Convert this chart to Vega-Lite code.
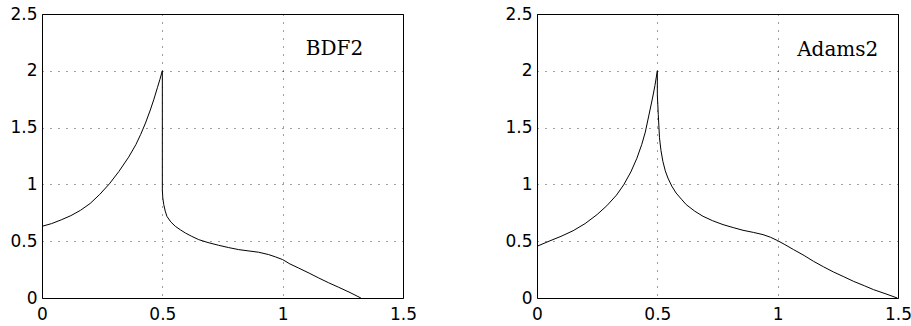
{
  "$schema": "https://vega.github.io/schema/vega-lite/v6.json",
  "autosize": {"type": "pad"},
  "padding": {"left": 9, "top": 4, "right": 5, "bottom": 5},
  "background": "white",
  "spacing": 134,
  "bounds": "flush",
  "datasets": {
    "bdf2": [
      {"x":0,"y":0.631},{"x":0.04,"y":0.655},{"x":0.08,"y":0.688},{"x":0.12,"y":0.725},{"x":0.16,"y":0.772},{"x":0.2,"y":0.832},{"x":0.24,"y":0.912},{"x":0.28,"y":1.005},{"x":0.32,"y":1.115},{"x":0.36,"y":1.24},{"x":0.39,"y":1.35},{"x":0.41,"y":1.44},{"x":0.43,"y":1.54},{"x":0.45,"y":1.655},{"x":0.465,"y":1.75},{"x":0.48,"y":1.855},{"x":0.49,"y":1.925},{"x":0.5,"y":2.0},
      {"x":0.5,"y":0.95},{"x":0.502,"y":0.88},{"x":0.506,"y":0.822},{"x":0.512,"y":0.765},{"x":0.519,"y":0.719},{"x":0.535,"y":0.67},{"x":0.554,"y":0.631},{"x":0.575,"y":0.6},{"x":0.596,"y":0.572},{"x":0.62,"y":0.545},{"x":0.651,"y":0.514},{"x":0.69,"y":0.488},{"x":0.734,"y":0.464},{"x":0.775,"y":0.444},{"x":0.817,"y":0.426},{"x":0.86,"y":0.414},{"x":0.9,"y":0.403},{"x":0.942,"y":0.382},{"x":0.97,"y":0.362},{"x":1.0,"y":0.338},{"x":1.03,"y":0.3},{"x":1.066,"y":0.264},{"x":1.11,"y":0.219},{"x":1.15,"y":0.176},{"x":1.19,"y":0.135},{"x":1.233,"y":0.094},{"x":1.28,"y":0.048},{"x":1.325,"y":0.0}
    ],
    "adams2": [
      {"x":0,"y":0.455},{"x":0.05,"y":0.5},{"x":0.1,"y":0.543},{"x":0.15,"y":0.592},{"x":0.2,"y":0.655},{"x":0.25,"y":0.735},{"x":0.29,"y":0.812},{"x":0.33,"y":0.905},{"x":0.36,"y":0.995},{"x":0.39,"y":1.11},{"x":0.415,"y":1.23},{"x":0.435,"y":1.35},{"x":0.45,"y":1.46},{"x":0.465,"y":1.61},{"x":0.48,"y":1.76},{"x":0.49,"y":1.87},{"x":0.5,"y":2.0},
      {"x":0.5,"y":1.79},{"x":0.502,"y":1.7},{"x":0.504,"y":1.614},{"x":0.509,"y":1.41},{"x":0.515,"y":1.3},{"x":0.523,"y":1.203},{"x":0.533,"y":1.12},{"x":0.544,"y":1.056},{"x":0.56,"y":0.985},{"x":0.578,"y":0.924},{"x":0.6,"y":0.87},{"x":0.62,"y":0.822},{"x":0.655,"y":0.765},{"x":0.69,"y":0.719},{"x":0.73,"y":0.68},{"x":0.773,"y":0.646},{"x":0.815,"y":0.62},{"x":0.856,"y":0.596},{"x":0.9,"y":0.577},{"x":0.939,"y":0.558},{"x":0.97,"y":0.535},{"x":1.0,"y":0.505},{"x":1.03,"y":0.47},{"x":1.066,"y":0.426},{"x":1.11,"y":0.374},{"x":1.149,"y":0.323},{"x":1.19,"y":0.275},{"x":1.232,"y":0.229},{"x":1.275,"y":0.187},{"x":1.315,"y":0.147},{"x":1.36,"y":0.108},{"x":1.398,"y":0.074},{"x":1.45,"y":0.036},{"x":1.497,"y":0.0}
    ]
  },
  "config": {
    "view": {"stroke": "#000", "strokeWidth": 1},
    "axis": {
      "domain": false, "ticks": false, "title": null,
      "labelFont": "DejaVu Sans", "labelFontSize": 17, "labelColor": "#000",
      "gridColor": "#000", "gridOpacity": 0.75, "gridDash": [1, 7], "gridWidth": 1,
      "labelFlush": false, "labelOverlap": false
    },
    "axisX": {"labelPadding": 8},
    "axisY": {"labelPadding": 5}
  },
  "hconcat": [
    {
      "width": 361, "height": 284,
      "layer": [
        {
          "data": {"name": "bdf2"},
          "mark": {"type": "line", "color": "#000", "strokeWidth": 1},
          "encoding": {
            "x": {"field": "x", "type": "quantitative", "scale": {"domain": [0, 1.5], "nice": false, "zero": false}, "axis": {"values": [0, 0.5, 1, 1.5], "format": "~g"}},
            "y": {"field": "y", "type": "quantitative", "scale": {"domain": [0, 2.5], "nice": false}, "axis": {"values": [0, 0.5, 1, 1.5, 2, 2.5], "format": "~g"}},
            "order": {"value": null}
          }
        },
        {
          "data": {"values": [{"label": "BDF2"}]},
          "mark": {"type": "text", "font": "DejaVu Serif", "fontSize": 20, "align": "left", "baseline": "alphabetic", "color": "#000"},
          "encoding": {
            "x": {"datum": 1.096, "type": "quantitative"},
            "y": {"datum": 2.136, "type": "quantitative"},
            "text": {"field": "label"}
          }
        }
      ]
    },
    {
      "width": 361, "height": 284,
      "layer": [
        {
          "data": {"name": "adams2"},
          "mark": {"type": "line", "color": "#000", "strokeWidth": 1},
          "encoding": {
            "x": {"field": "x", "type": "quantitative", "scale": {"domain": [0, 1.5], "nice": false, "zero": false}, "axis": {"values": [0, 0.5, 1, 1.5], "format": "~g"}},
            "y": {"field": "y", "type": "quantitative", "scale": {"domain": [0, 2.5], "nice": false}, "axis": {"values": [0, 0.5, 1, 1.5, 2, 2.5], "format": "~g"}},
            "order": {"value": null}
          }
        },
        {
          "data": {"values": [{"label": "Adams2"}]},
          "mark": {"type": "text", "font": "DejaVu Serif", "fontSize": 20, "align": "left", "baseline": "alphabetic", "color": "#000"},
          "encoding": {
            "x": {"datum": 1.081, "type": "quantitative"},
            "y": {"datum": 2.134, "type": "quantitative"},
            "text": {"field": "label"}
          }
        }
      ]
    }
  ]
}
